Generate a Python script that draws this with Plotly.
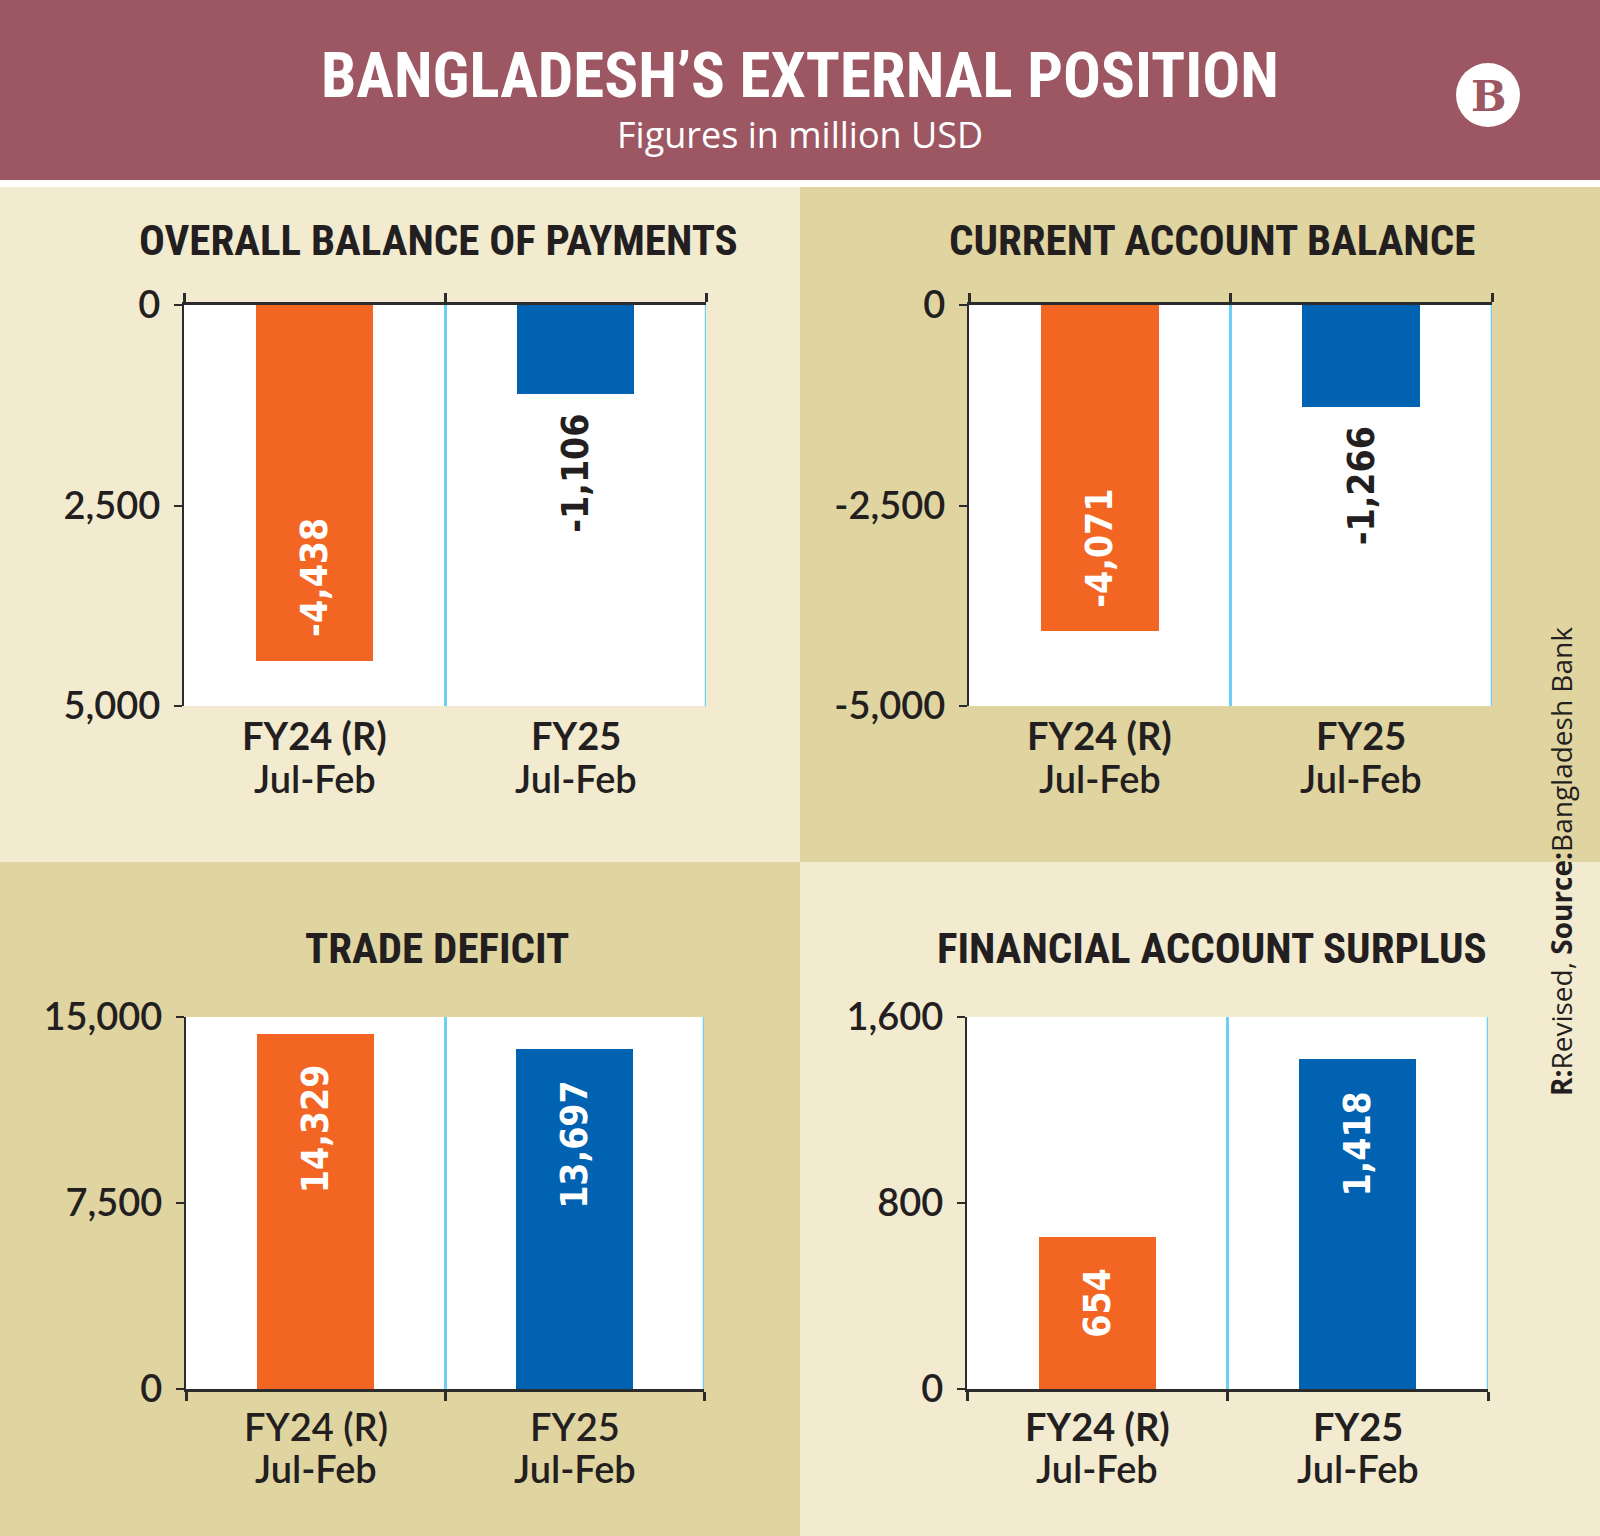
import plotly.graph_objects as go

# ---------------- data ----------------
categories = ["FY24 (R)", "FY25"]
period_label = "Jul-Feb"
panel_titles = ["OVERALL BALANCE OF PAYMENTS", "CURRENT ACCOUNT BALANCE",
                "TRADE DEFICIT", "FINANCIAL ACCOUNT SURPLUS"]
overall_bop = [-4438, -1106]
current_account = [-4071, -1266]
trade_deficit = [14329, 13697]
financial_account = [654, 1418]

ticks_bop = [0, -2500, -5000]
ticktext_bop = ["0", "2,500", "5,000"]
ticks_cab = [0, -2500, -5000]
ticktext_cab = ["0", "-2,500", "-5,000"]
ticks_trade = [0, 7500, 15000]
ticktext_trade = ["0", "7,500", "15,000"]
ticks_fin = [0, 800, 1600]
ticktext_fin = ["0", "800", "1,600"]

title_text = "BANGLADESH\u2019S EXTERNAL POSITION"
subtitle_text = "Figures in million USD"
source_text = "<b>R:</b>Revised, <b>Source:</b>Bangladesh Bank"

# ---------------- style ----------------
W, H = 1600, 1536
MAROON = "#9c5762"
CREAM = "#f3ebd0"
TAN = "#e0d4a0"
BAR_COLORS = ["#f26522", "#0062b0"]
GRID_BLUE = "#6dcff6"
INK = "#231f20"
AXIS = "#2b2b2b"
COND = "Liberation Sans Narrow, Roboto Condensed, DejaVu Sans Condensed, sans-serif"
LABEL_FONT = "DejaVu Sans Condensed, Liberation Sans Narrow, sans-serif"
BODY = "Lato, Open Sans, sans-serif"


def px_x(x):
    return x / W


def px_y(y):
    return 1 - y / H


panels = [
    dict(values=overall_bop, tv=ticks_bop, tt=ticktext_bop, title=panel_titles[0],
         xd=(184, 706), yd=(305, 706), rng=[-5000, 0], side="top", bg=CREAM,
         bg_box=(0, 800, 187, 862), tcx=438, tcy=240, l1=735, l2=778, bold=True),
    dict(values=current_account, tv=ticks_cab, tt=ticktext_cab, title=panel_titles[1],
         xd=(969, 1492), yd=(305, 706), rng=[-5000, 0], side="top", bg=TAN,
         bg_box=(800, 1600, 187, 862), tcx=1212, tcy=240, l1=735, l2=778, bold=True),
    dict(values=trade_deficit, tv=ticks_trade, tt=ticktext_trade, title=panel_titles[2],
         xd=(186, 704), yd=(1017, 1389), rng=[0, 15000], side="bottom", bg=TAN,
         bg_box=(0, 800, 862, 1536), tcx=437, tcy=948, l1=1426, l2=1468, bold=False),
    dict(values=financial_account, tv=ticks_fin, tt=ticktext_fin, title=panel_titles[3],
         xd=(967, 1488), yd=(1017, 1389), rng=[0, 1600], side="bottom", bg=CREAM,
         bg_box=(800, 1600, 862, 1536), tcx=1212, tcy=948, l1=1426, l2=1468, bold=True),
]

fig = go.Figure()
shapes = []
annotations = []
layout_axes = {}

# header
shapes.append(dict(type="rect", xref="paper", yref="paper", x0=0, x1=1,
                   y0=px_y(180), y1=1, fillcolor=MAROON, line_width=0, layer="below"))

for i, p in enumerate(panels):
    n = "" if i == 0 else str(i + 1)
    xa, ya = "x" + n, "y" + n
    bx0, bx1, by0, by1 = p["bg_box"]
    shapes.append(dict(type="rect", xref="paper", yref="paper", x0=px_x(bx0), x1=px_x(bx1),
                       y0=px_y(by1), y1=px_y(by0), fillcolor=p["bg"], line_width=0,
                       layer="below"))
    # white plotting area
    shapes.append(dict(type="rect", xref=f"{xa} domain", yref=f"{ya} domain",
                       x0=0, x1=1, y0=0, y1=1, fillcolor="white", line_width=0,
                       layer="below"))
    # right-edge boundary line
    shapes.append(dict(type="line", xref=xa, yref=f"{ya} domain", x0=1.5, x1=1.5,
                       y0=0, y1=1, line=dict(color=GRID_BLUE, width=2.5), layer="below"))

    fig.add_trace(go.Bar(x=list(range(len(categories))), y=p["values"],
                         marker=dict(color=BAR_COLORS, line_width=0), width=0.45,
                         xaxis=xa, yaxis=ya, showlegend=False, hoverinfo="skip"))

    layout_axes["xaxis" + n] = dict(
        domain=[px_x(p["xd"][0]), px_x(p["xd"][1])], anchor=ya, automargin=False,
        range=[-0.5, 1.5], side=p["side"], showline=True, linecolor=AXIS,
        linewidth=3, showgrid=False, zeroline=False, showticklabels=False,
        tickvals=[0, 1], ticks="", fixedrange=True,
        minor=dict(tickvals=[-0.5, 0.5, 1.5], ticks="outside", ticklen=9,
                   tickwidth=2.5, tickcolor=AXIS, showgrid=True,
                   gridcolor=GRID_BLUE, gridwidth=2.5),
    )
    layout_axes["yaxis" + n] = dict(
        domain=[px_y(p["yd"][1]), px_y(p["yd"][0])], anchor=xa, automargin=False,
        range=p["rng"], tickvals=p["tv"], ticktext=p["tt"], ticks="outside",
        ticklen=8, tickwidth=2, tickcolor=AXIS, showline=True, ticklabelstandoff=6,
        linecolor=AXIS, linewidth=2, showgrid=False, zeroline=False,
        tickfont=dict(family=BODY, size=38, color=INK, weight=600), fixedrange=True,
    )

    # panel title
    annotations.append(dict(text=p["title"], xref="paper", yref="paper",
                            x=px_x(p["tcx"]), y=px_y(p["tcy"]), xanchor="center",
                            yanchor="middle", showarrow=False,
                            font=dict(family=COND, size=43, color=INK, weight="bold")))

    # category labels (two lines)
    for j, c in enumerate(categories):
        annotations.append(dict(text=c, xref=xa, yref="paper",
                                x=j, y=px_y(p["l1"]), xanchor="center",
                                yanchor="middle", showarrow=False,
                                font=dict(family=BODY, size=38, color=INK,
                                          weight="bold" if p["bold"] else 600)))
        annotations.append(dict(text=period_label, xref=xa, yref="paper",
                                x=j, y=px_y(p["l2"]), xanchor="center",
                                yanchor="middle", showarrow=False,
                                font=dict(family=BODY, size=38, color=INK, weight=600)))

    # value labels
    span = abs(p["rng"][1] - p["rng"][0])
    for j, v in enumerate(p["values"]):
        outside = abs(v) / span < 0.3
        if v < 0:
            if outside:
                ya_anchor, shift = "top", -18
            else:
                ya_anchor, shift = "bottom", 22
        else:
            ya_anchor, shift = "top", -30
        annotations.append(dict(text=f"{v:,}", xref=xa, yref=ya, x=j, y=v,
                                xanchor="center", yanchor=ya_anchor, yshift=shift,
                                textangle=-90, showarrow=False,
                                font=dict(family=LABEL_FONT, size=37,
                                          color=INK if outside else "white",
                                          weight="bold")))

# header texts
annotations.append(dict(text=title_text, xref="paper", yref="paper", x=0.5, y=px_y(76),
                        xanchor="center", yanchor="middle", showarrow=False,
                        font=dict(family=COND, size=63, color="white", weight="bold")))
annotations.append(dict(text=subtitle_text, xref="paper", yref="paper", x=0.5,
                        y=px_y(134), xanchor="center", yanchor="middle", showarrow=False,
                        font=dict(family="Open Sans, Lato, sans-serif", size=36,
                                  color="white")))

# logo
shapes.append(dict(type="circle", xref="paper", yref="paper",
                   x0=px_x(1456), x1=px_x(1520), y0=px_y(127), y1=px_y(63),
                   fillcolor="white", line_width=0))
annotations.append(dict(text="<b>B</b>", xref="paper", yref="paper", x=px_x(1489),
                        y=px_y(96), xanchor="center", yanchor="middle", showarrow=False,
                        font=dict(family="DejaVu Serif, Liberation Serif, serif", size=42,
                                  color=MAROON)))

# side note
annotations.append(dict(text=source_text, xref="paper", yref="paper", x=px_x(1561),
                        y=px_y(862), xanchor="center", yanchor="middle", textangle=-90,
                        showarrow=False,
                        font=dict(family="Open Sans, Lato, sans-serif", size=28,
                                  color=INK)))

fig.update_layout(
    width=W, height=H, margin=dict(l=0, r=0, t=0, b=0, pad=0, autoexpand=False),
    paper_bgcolor="white", plot_bgcolor="white",
    shapes=shapes, annotations=annotations, showlegend=False,
    bargap=0, **layout_axes,
)

fig.write_html("out.html", config={"displayModeBar": False})
